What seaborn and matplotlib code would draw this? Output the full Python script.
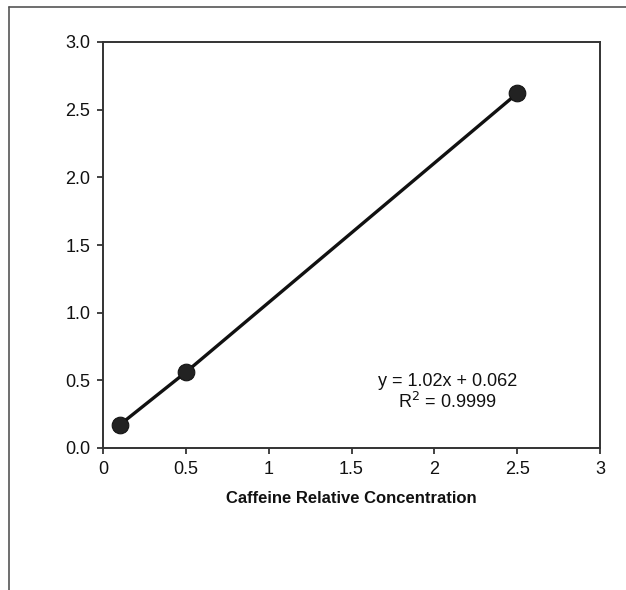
import matplotlib
matplotlib.use("Agg")
import matplotlib.pyplot as plt
import seaborn as sns
import pandas as pd
from matplotlib.lines import Line2D

concentration = [0.1, 0.5, 2.5]
response = [0.17, 0.56, 2.62]
x_ticks = [0, 0.5, 1, 1.5, 2, 2.5, 3]
x_tick_labels = ["0", "0.5", "1", "1.5", "2", "2.5", "3"]
y_ticks = [0.0, 0.5, 1.0, 1.5, 2.0, 2.5, 3.0]
y_tick_labels = ["0.0", "0.5", "1.0", "1.5", "2.0", "2.5", "3.0"]
equation_line1 = "y = 1.02x + 0.062"
equation_line2 = "R$^{2}$ = 0.9999"
x_label = "Caffeine Relative Concentration"

sns.set_theme(style="white")
plt.rcParams['font.family'] = ['Liberation Sans', 'DejaVu Sans']

df = pd.DataFrame({"x": concentration, "y": response})

fig = plt.figure(figsize=(6.26, 5.90), dpi=100)
ax = fig.add_axes([103/626, 1-448/590, (600-103)/626, (448-42)/590])

sns.lineplot(data=df, x="x", y="y", ax=ax, color="#111111", linewidth=2.4,
             marker="o", markersize=12, markeredgecolor="#111111",
             markerfacecolor="#222222")

ax.set_xlim(0, 3)
ax.set_ylim(0, 3)
ax.set_xticks(x_ticks)
ax.set_xticklabels(x_tick_labels, fontsize=13)
ax.set_yticks(y_ticks)
ax.set_yticklabels(y_tick_labels, fontsize=13)
ax.tick_params(axis="both", direction="out", length=4, width=1.2, color="#222222",
               bottom=True, left=True, labelcolor="#111111")
ax.tick_params(axis="x", pad=5)
ax.tick_params(axis="y", pad=5)
for s in ax.spines.values():
    s.set_color("#333333")
    s.set_linewidth(1.4)
    s.set_visible(True)
ax.set_xlabel(x_label, fontsize=12, fontweight="bold", color="#111111", labelpad=10)
ax.set_ylabel("")

ax.text(2.08, 0.49, equation_line1, ha="center", va="center", fontsize=13,
        color="#111111")
ax.text(2.08, 0.34, equation_line2, ha="center", va="center", fontsize=13,
        color="#111111")

# outer border (partial box)
lw = 1.2
col = "#555555"
fig.add_artist(Line2D([9/626, 9/626], [0, 1-7/590], transform=fig.transFigure, color=col, lw=lw))
fig.add_artist(Line2D([9/626, 1.0], [1-7/590, 1-7/590], transform=fig.transFigure, color=col, lw=lw))

fig.savefig("out.png", dpi=100)
